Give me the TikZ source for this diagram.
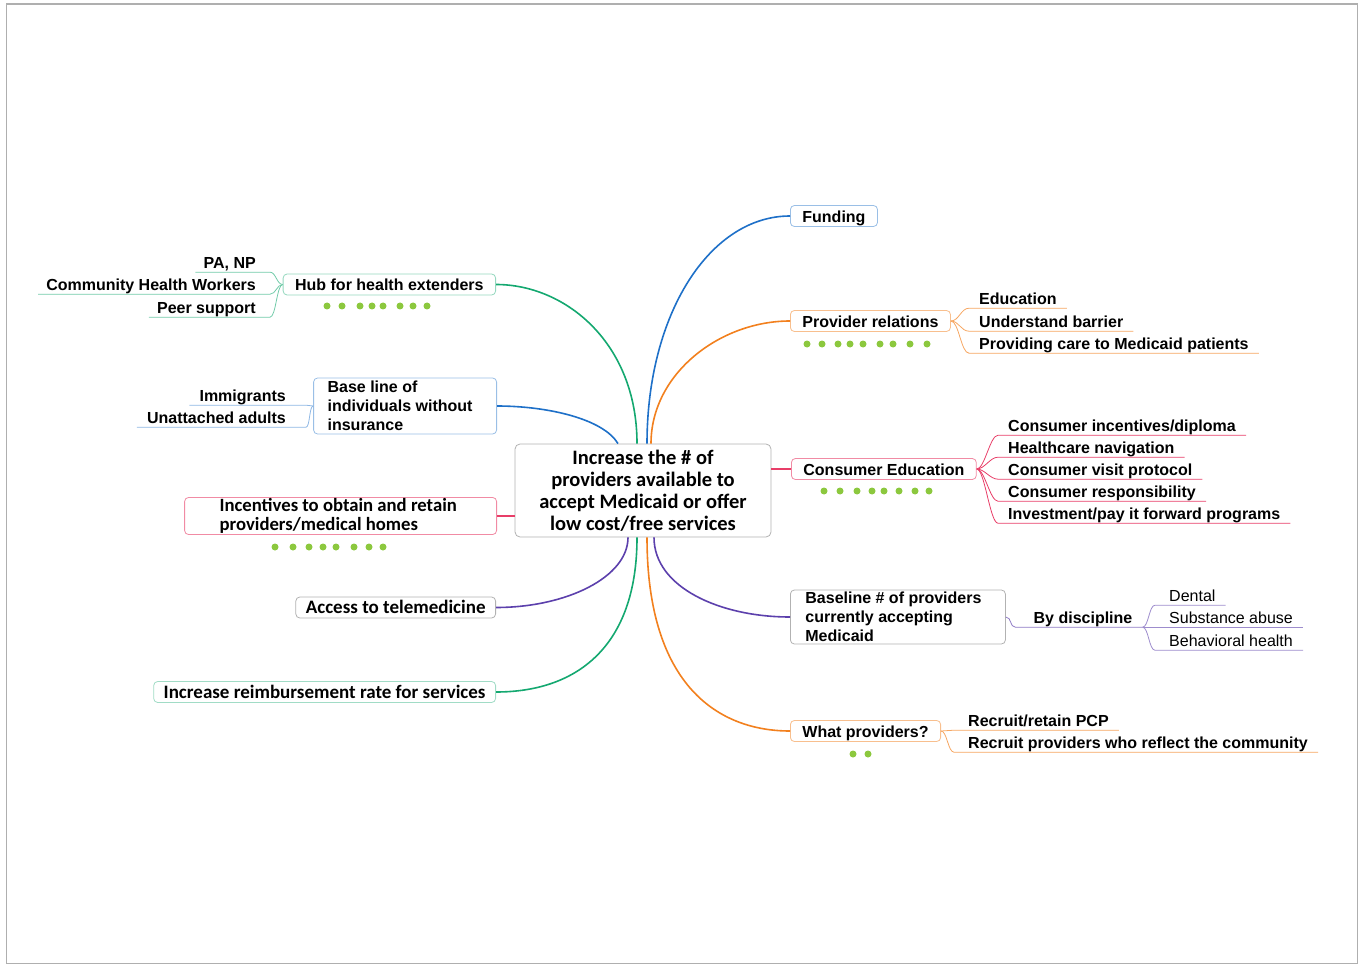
\documentclass[tikz,border=0pt]{standalone}
\usepackage{fontspec}
\setmainfont{Liberation Sans}
\newfontfamily\narrowfont{Carlito}
\usetikzlibrary{calc}

\definecolor{mgreen}{RGB}{20,168,112}
\definecolor{mblue}{RGB}{30,112,200}
\definecolor{morange}{RGB}{242,128,30}
\definecolor{mpink}{RGB}{232,62,104}
\definecolor{mpurple}{RGB}{92,64,172}
\definecolor{mdot}{RGB}{140,200,62}
\definecolor{mframe}{RGB}{175,175,175}

\begin{document}
\begin{tikzpicture}[x=1pt, y=-1pt,
  topic/.style={draw=#1, rounded corners=4pt, line width=0.8pt, fill=white,
    font=\bfseries\fontsize{16}{19}\selectfont, inner xsep=12pt, inner ysep=2.5pt,
    text height=14.5pt, text depth=1.5pt},
  multi/.style={draw=#1, rounded corners=4pt, line width=0.8pt, fill=white,
    align=flush left, inner ysep=1pt, font=\bfseries\fontsize{16}{19}\selectfont},
  narrow/.style={font=\narrowfont\bfseries\fontsize{19}{19}\selectfont},
  leaf/.style={font=\bfseries\fontsize{16}{19}\selectfont, inner xsep=0pt,
    inner ysep=2pt, text height=14.5pt, text depth=1.5pt},
  leafr/.style={leaf, font=\fontsize{16}{19}\selectfont},
  branch/.style={draw=#1, line width=1.6pt},
  sub/.style={draw=#1, line width=0.8pt},
  mdots/.style={fill=mdot}]

% 画布与边框
\useasboundingbox (0,0) rectangle (1359,965);
\draw[mframe, line width=1pt] (6,4) rectangle (1357,963);
\draw[mframe, line width=2pt] (6,4) -- (1357,4);

% 中心主题
\node[draw=gray!60, rounded corners=5pt, line width=0.8pt, fill=white, align=center,
  minimum width=256pt, minimum height=93pt, inner sep=0pt,
  font=\narrowfont\bfseries\fontsize{20.5}{22}\selectfont] (c) at (643,490.5)
  {Increase the \# of\\providers available to\\accept Medicaid or offer\\low cost/free services};

% 左侧分支
\node[topic=mgreen!45, anchor=east] (hub) at (496,284.5) {Hub for health extenders};
\node[multi=mblue!45, anchor=east, text width=155pt, inner xsep=14pt,
  minimum height=56pt] (base) at (497,406) {Base line of\\individuals without\\insurance};
\node[multi=mpink!60, anchor=east, text width=242pt, inner xsep=35pt, minimum height=37pt,
  font=\narrowfont\bfseries\fontsize{18.7}{19}\selectfont] (inc) at (497,516)
  {Incentives to obtain and retain\\providers/medical homes};
\node[topic=gray!60, narrow, anchor=east, inner xsep=10pt, inner ysep=1.5pt,
  text height=15pt, text depth=3pt] (tele) at (496,607.5) {Access to telemedicine};
\node[topic=mgreen!40, narrow, anchor=east, inner xsep=10pt, inner ysep=1.5pt,
  text height=15pt, text depth=3pt] (reimb) at (496,692) {Increase reimbursement rate for services};

% 右侧分支
\node[topic=mblue!45, anchor=west] (fund) at (790,216) {Funding};
\node[topic=morange!50, anchor=west] (pr) at (790,321) {Provider relations};
\node[topic=mpink!60, anchor=west] (ce) at (791,469) {Consumer Education};
\node[multi=gray!60, anchor=west, text width=185pt, inner xsep=15pt,
  minimum height=54pt] (bl) at (790,617) {Baseline \# of providers\\currently accepting\\Medicaid};
\node[topic=morange!50, anchor=west] (wp) at (790,731) {What providers?};

% 中心到分支的曲线
\draw[branch=mgreen] ([xshift=-6pt]c.north) .. controls +(0,-100) and +(70,0) .. (hub.east);
\draw[branch=mblue] ([xshift=-25pt]c.north) .. controls +(-15,-25) and +(50,0) .. (base.east);
\draw[branch=mpink] (c.west |- inc.east) -- (inc.east);
\draw[branch=mpurple] ([xshift=-15pt]c.south) .. controls +(0,40) and +(70,0) .. (tele.east);
\draw[branch=mgreen] ([xshift=-6pt]c.south) .. controls +(0,110) and +(80,0) .. (reimb.east);
\draw[branch=mblue] ([xshift=4pt]c.north) .. controls +(0,-130) and +(-80,0) .. (fund.west);
\draw[branch=morange] ([xshift=8pt]c.north) .. controls +(0,-70) and +(-70,0) .. (pr.west);
\draw[branch=mpink] (c.east |- ce.west) -- (ce.west);
\draw[branch=mpurple] ([xshift=11pt]c.south) .. controls +(0,50) and +(-70,0) .. (bl.west);
\draw[branch=morange] ([xshift=4pt]c.south) .. controls +(0,150) and +(-70,0) .. (wp.west);

% Hub 的子节点
\foreach \t/\y [count=\i] in {{PA, NP}/262, Community Health Workers/284, Peer support/307} {
  \node[leaf, anchor=east] (hub\i) at (256,\y) {\t};
  \draw[sub=mgreen!60] ([xshift=-8pt]hub\i.south west) -- ([xshift=14pt]hub\i.south east)
    .. controls +(6,0) and +(-6,0) .. (hub.west);
}

% Base line 的子节点
\foreach \t/\y [count=\i] in {Immigrants/395, Unattached adults/417} {
  \node[leaf, anchor=east] (base\i) at (286,\y) {\t};
  \draw[sub=mblue!50] ([xshift=-10pt]base\i.south west) -- ([xshift=20pt]base\i.south east)
    .. controls +(4,0) and +(-4,0) .. (base.west);
}

% Provider relations 的子节点
\foreach \t/\y [count=\i] in {Education/298, Understand barrier/321, Providing care to Medicaid patients/343} {
  \node[leaf, anchor=west] (pr\i) at (979,\y) {\t};
  \draw[sub=morange!70] (pr.east) .. controls +(8,0) and +(-8,0) .. ([xshift=-10pt]pr\i.south west)
    -- ([xshift=10pt]pr\i.south east);
}

% Consumer Education 的子节点
\foreach \t/\y [count=\i] in {{Consumer incentives/diploma}/425, Healthcare navigation/447,
    Consumer visit protocol/469, Consumer responsibility/491, {Investment/pay it forward programs}/513} {
  \node[leaf, anchor=west] (ce\i) at (1008,\y) {\t};
  \draw[sub=mpink] (ce.east) .. controls +(8,0) and +(-8,0) .. ([xshift=-10pt]ce\i.south west)
    -- ([xshift=10pt]ce\i.south east);
}

% Baseline 的子节点
\node[leaf] (disc) at (1083,617) {By discipline};
\draw[sub=mpurple!70] (bl.east) .. controls +(6,0) and +(-6,0) .. ([xshift=-18pt]disc.south west)
  -- ([xshift=10pt]disc.south east);
\foreach \t/\y [count=\i] in {Dental/595, Substance abuse/617, Behavioral health/640} {
  \node[leafr, anchor=west] (disc\i) at (1169,\y) {\t};
  \draw[sub=mpurple!60] ([xshift=10pt]disc.south east) .. controls +(6,0) and +(-6,0)
    .. ([xshift=-14pt]disc\i.south west) -- ([xshift=10pt]disc\i.south east);
}

% What providers 的子节点
\foreach \t/\y [count=\i] in {{Recruit/retain PCP}/720, Recruit providers who reflect the community/742} {
  \node[leaf, anchor=west] (wp\i) at (968,\y) {\t};
  \draw[sub=morange!70] (wp.east) .. controls +(6,0) and +(-6,0) .. ([xshift=-14pt]wp\i.south west)
    -- ([xshift=10pt]wp\i.south east);
}

% 绿色标记点
\foreach \x in {327,342,360,372,383,400,413,427} \fill[mdots] (\x,306) circle (3.5pt);
\foreach \x in {275,293,309,323,336,354,369,383} \fill[mdots] (\x,547) circle (3.5pt);
\foreach \x in {807,822,838,850,863,880,893,910,927} \fill[mdots] (\x,344) circle (3.5pt);
\foreach \x in {824,840,857,872,884,899,915,929} \fill[mdots] (\x,491) circle (3.5pt);
\foreach \x in {853,868} \fill[mdots] (\x,754) circle (3.5pt);

\end{tikzpicture}
\end{document}
